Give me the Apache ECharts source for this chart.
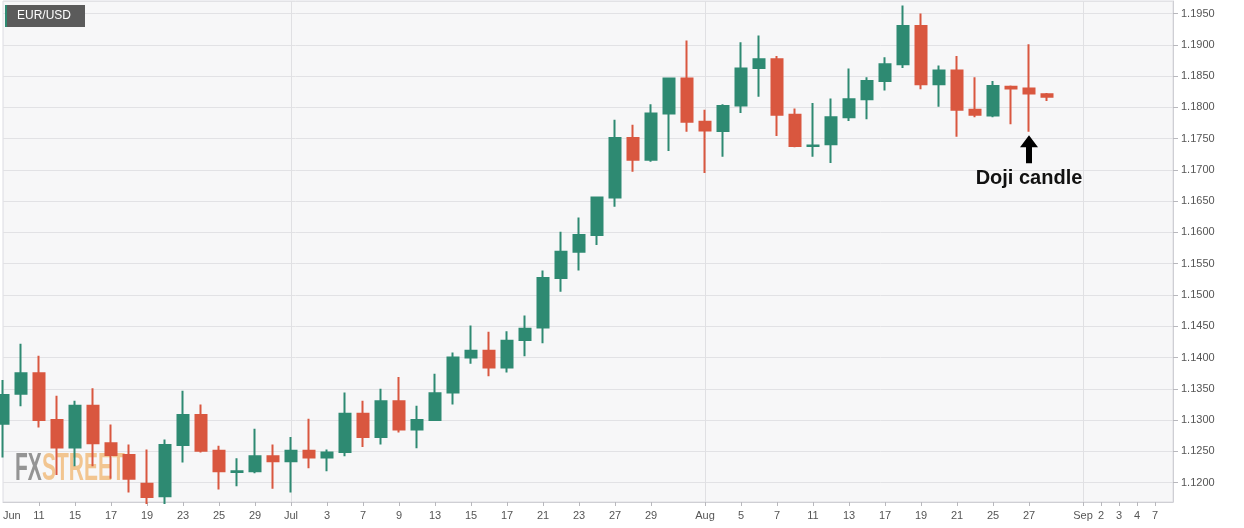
<!DOCTYPE html>
<html>
<head>
<meta charset="utf-8">
<script src="https://cdn.jsdelivr.net/npm/echarts@6/dist/echarts.min.js"></script>
<style>
html,body{margin:0;padding:0;background:#fff;}
#chart{width:1244px;height:528px;}
</style>
</head>
<body>
<div id="chart"></div>
<script>
const categories = ['2020-06-09','2020-06-10','2020-06-11','2020-06-12','2020-06-15','2020-06-16','2020-06-17','2020-06-18','2020-06-19','2020-06-22','2020-06-23','2020-06-24','2020-06-25','2020-06-26','2020-06-29','2020-06-30','2020-07-01','2020-07-02','2020-07-03','2020-07-06','2020-07-07','2020-07-08','2020-07-09','2020-07-10','2020-07-13','2020-07-14','2020-07-15','2020-07-16','2020-07-17','2020-07-20','2020-07-21','2020-07-22','2020-07-23','2020-07-24','2020-07-27','2020-07-28','2020-07-29','2020-07-30','2020-07-31','2020-08-03','2020-08-04','2020-08-05','2020-08-06','2020-08-07','2020-08-10','2020-08-11','2020-08-12','2020-08-13','2020-08-14','2020-08-17','2020-08-18','2020-08-19','2020-08-20','2020-08-21','2020-08-24','2020-08-25','2020-08-26','2020-08-27','2020-08-28','2020-08-31','2020-09-01','2020-09-02','2020-09-03','2020-09-04','2020-09-07','2020-09-08'];

const tickLabels = ['Jun','','11','','15','','17','','19','','23','','25','','29','','Jul','','3','','7','','9','','13','','15','','17','','21','','23','','27','','29','','','Aug','','5','','7','','11','','13','','17','','19','','21','','25','','27','','','Sep','2','3','4','7',''];

const opens  = [1.1294,1.1342,1.1375,1.1300,1.1256,1.1323,1.1263,1.1244,1.1198,1.1178,1.1260,1.1308,1.1251,1.1217,1.1218,1.1242,1.1234,1.1251,1.1240,1.1249,1.1310,1.1273,1.1330,1.1285,1.1300,1.1344,1.1400,1.1411,1.1384,1.1428,1.1448,1.1527,1.1569,1.1596,1.1656,1.1751,1.1716,1.1790,1.1846,1.1777,1.1762,1.1803,1.1863,1.1877,1.1788,1.1738,1.1741,1.1784,1.1813,1.1842,1.1869,1.1930,1.1837,1.1859,1.1796,1.1787,1.1833,1.1830,1.1821];
const closes = [1.1340,1.1375,1.1300,1.1256,1.1323,1.1263,1.1244,1.1206,1.1177,1.1260,1.1308,1.1251,1.1218,1.1218,1.1242,1.1234,1.1251,1.1240,1.1248,1.1310,1.1273,1.1330,1.1285,1.1300,1.1343,1.1400,1.1411,1.1384,1.1427,1.1446,1.1527,1.1569,1.1596,1.1656,1.1751,1.1716,1.1790,1.1846,1.1777,1.1763,1.1802,1.1862,1.1877,1.1788,1.1738,1.1739,1.1784,1.1813,1.1842,1.1869,1.1930,1.1837,1.1859,1.1796,1.1788,1.1834,1.1830,1.1822,1.1817];
const lows   = [1.1240,1.1322,1.1288,1.1212,1.1226,1.1226,1.1206,1.1184,1.1166,1.1166,1.1232,1.1248,1.1189,1.1194,1.1215,1.1190,1.1184,1.1223,1.1218,1.1242,1.1257,1.1261,1.1280,1.1255,1.1299,1.1325,1.1390,1.1370,1.1376,1.1402,1.1423,1.1505,1.1539,1.1580,1.1641,1.1697,1.1713,1.1730,1.1761,1.1695,1.1721,1.1791,1.1817,1.1754,1.1736,1.1721,1.1711,1.1778,1.1781,1.1827,1.1863,1.1829,1.1801,1.1753,1.1784,1.1784,1.1773,1.1761,1.1810];
const highs  = [1.1364,1.1422,1.1403,1.1339,1.1331,1.1351,1.1293,1.1261,1.1253,1.1269,1.1347,1.1325,1.1259,1.1239,1.1286,1.1261,1.1273,1.1302,1.1253,1.1344,1.1331,1.1350,1.1369,1.1323,1.1374,1.1408,1.1451,1.1441,1.1442,1.1467,1.1539,1.1601,1.1624,1.1657,1.1780,1.1772,1.1805,1.1847,1.1907,1.1796,1.1805,1.1904,1.1915,1.1882,1.1798,1.1807,1.1814,1.1862,1.1848,1.1880,1.1963,1.1950,1.1867,1.1882,1.1848,1.1842,1.1835,1.1901,1.1823];

const annotation = { date: '2020-08-27', value: 1.1733, text: 'Doji candle' };
const pairTitle = 'EUR/USD';

const UP = '#2e8a72';
const DOWN = '#d9573f';

const candleData = opens.map((o, i) => [o, closes[i], lows[i], highs[i]]);

const chart = echarts.init(document.getElementById('chart'));
chart.setOption({
  animation: false,
  backgroundColor: '#ffffff',
  textStyle: { fontFamily: '"Liberation Sans", Arial, sans-serif' },
  grid: {
    left: 0, right: 71, top: 1, bottom: 26,
    show: true, backgroundColor: '#f7f7f8', borderColor: '#dcdce2', borderWidth: 1
  },
  xAxis: {
    type: 'category',
    data: categories,
    boundaryGap: false,
    axisLine: { show: true, lineStyle: { color: '#cfcfd4', width: 1 } },
    axisTick: {
      show: true, length: 4, lineStyle: { color: '#b8b8bd' },
      interval: (i) => tickLabels[i] !== '' && i > 0
    },
    axisLabel: {
      interval: 0, margin: 8, color: '#555', fontSize: 11,
      alignMinLabel: 'left',
      formatter: (v, i) => tickLabels[i]
    },
    splitLine: {
      show: true,
      lineStyle: { color: '#e0e0e3', width: 1 },
      interval: (i) => i > 0 && tickLabels[i] !== '' && isNaN(Number(tickLabels[i]))
    }
  },
  yAxis: {
    type: 'value',
    position: 'right',
    min: 1.1169,
    max: 1.1970,
    splitNumber: 16,
    scale: true,
    axisLine: { show: true, lineStyle: { color: '#cfcfd4' } },
    axisTick: { show: true, length: 5, lineStyle: { color: '#b8b8bd' } },
    axisLabel: {
      color: '#555', fontSize: 11, margin: 8,
      showMinLabel: false, showMaxLabel: false,
      formatter: (v) => v.toFixed(4)
    },
    splitLine: { show: true, lineStyle: { color: '#e2e2e5', width: 1 } }
  },
  graphic: {
    elements: [
      { type: 'rect', left: 5, top: 5, z: 10, shape: { width: 80, height: 22 }, style: { fill: '#5b5b5b' } },
      { type: 'rect', left: 5, top: 5, z: 11, shape: { width: 2, height: 22 }, style: { fill: UP } },
      { type: 'text', left: 17, top: 10, z: 12, style: { text: pairTitle, fill: '#ffffff', font: '12px "Liberation Sans", Arial, sans-serif' } },
      { type: 'text', x: 15, y: 469, z: 1, scaleX: 0.6, scaleY: 1.1, style: { text: 'FX', fill: 'rgba(130,130,130,0.85)', font: 'bold 35px "Liberation Sans", Arial, sans-serif', verticalAlign: 'middle' } },
      { type: 'text', x: 42, y: 469, z: 1, scaleX: 0.6, scaleY: 1.1, style: { text: 'STREET', fill: 'rgba(240,180,110,0.75)', font: 'bold 35px "Liberation Sans", Arial, sans-serif', verticalAlign: 'middle' } }
    ]
  },
  series: [{
    type: 'candlestick',
    data: candleData,
    barWidth: 12,
    clip: true,
    itemStyle: {
      color: UP, color0: DOWN,
      borderColor: UP, borderColor0: DOWN,
      borderWidth: 2
    },
    markPoint: {
      silent: true,
      data: [{
        coord: [annotation.date, annotation.value],
        symbol: 'path://M9,0 L18,12 L12,12 L12,28 L6,28 L6,12 L0,12 Z',
        symbolSize: [18, 28],
        itemStyle: { color: '#000000' },
        label: {
          show: true, position: 'bottom', distance: 5,
          formatter: annotation.text,
          color: '#111', fontSize: 20, fontWeight: 'bold',
          fontFamily: '"Liberation Sans", Arial, sans-serif'
        }
      }]
    }
  }]
});
</script>
</body>
</html>
